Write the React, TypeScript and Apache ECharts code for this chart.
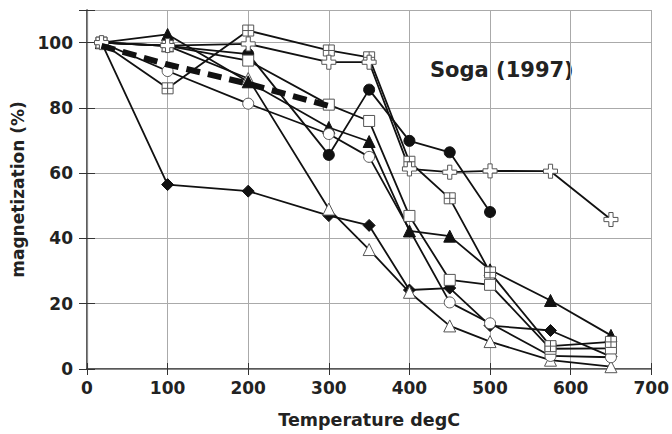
import React, { useEffect, useRef } from "react";
import * as echarts from "echarts";

const temps = [18, 100, 200, 300, 350, 400, 450, 500, 575, 650];
const filledDiamond = [100, 56.5, 54.5, 47, 44, 24.2, 24.8, 13.3, 11.8, 3.8];
const openTriangle = [100, 99, 89, 49, 36.6, 23.5, 13.2, 8.4, 2.7, 0.7];
const filledTriangle = [100, 102.5, 88, 74, 69.7, 42.3, 40.7, 30.4, 21, 10.3];
const filledCircle = [100, 99, 96.5, 65.6, 85.6, 69.9, 66.4, 48.1, null, null];
const openCircle = [100, 91.3, 81.3, 72, 65, null, 20.4, 14, 4, 3.6];
const openSquare = [100, 99, 94.5, 81, 76, 46.9, 27.3, 25.8, 6.2, 6.3];
const gridSquare = [100, 86, 103.7, 97.6, 95.5, 63.5, 52.3, 29.6, 7, 8.3];
const openPlus = [100, 99.1, 99.6, 94, 94, 61.3, 60.3, 60.7, 60.6, 45.8];
const meanTemps = [18, 100, 200, 300];
const meanCurve = [99, 93.3, 87.4, 80.6];

const xTicks = [0, 100, 200, 300, 400, 500, 600, 700];
const yTicks = [0, 20, 40, 60, 80, 100];

const PLUS = "path://M3.5,0 H6.5 V3.5 H10 V6.5 H6.5 V10 H3.5 V6.5 H0 V3.5 H3.5 Z";
const GRIDSQ = "path://M0,0 H10 V10 H0 Z M5,0 V10 M0,5 H10";

const FONT = "DejaVu Sans";

function pairs(xs: number[], ys: (number | null)[]) {
  return xs.map((x, i) => [x, ys[i]]);
}

export default function App() {
  const ref = useRef<HTMLDivElement>(null);
  useEffect(() => {
    if (!ref.current) return;
    const chart = echarts.init(ref.current, undefined, { renderer: "svg" });
    const line = { color: "#111", width: 1.8 };
    const open = { color: "#fff", borderColor: "#555", borderWidth: 1 };
    const filled = { color: "#111", borderColor: "#111", borderWidth: 1 };
    const mk = (name: string, ys: (number | null)[], symbol: string, size: number, style: any) => ({
      name,
      type: "line",
      data: pairs(temps, ys),
      connectNulls: true,
      symbol,
      symbolSize: size,
      lineStyle: line,
      itemStyle: style,
      z: 3,
    });
    const labelStyle = { fontFamily: FONT, fontWeight: "bold", fontSize: 17, color: "#222" };
    chart.setOption({
      animation: false,
      backgroundColor: "#fff",
      grid: { left: 87, right: 19, top: 10, bottom: 62 },
      xAxis: [
        {
          type: "value",
          min: 0,
          max: 700,
          interval: 100,
          position: "bottom",
          name: "Temperature degC",
          nameLocation: "middle",
          nameGap: 42,
          nameTextStyle: { fontFamily: FONT, fontWeight: "bold", fontSize: 17.5, color: "#222" },
          axisLine: { show: true, lineStyle: { color: "#222", width: 1.5 } },
          axisTick: { show: true, inside: true, length: 6, lineStyle: { color: "#333" } },
          axisLabel: { ...labelStyle, margin: 10, customValues: xTicks },
          splitLine: { show: true, lineStyle: { color: "#aaa", width: 1 } },
        },
        {
          type: "value",
          min: 0,
          max: 700,
          interval: 100,
          position: "top",
          axisLine: { show: true, lineStyle: { color: "#888", width: 1.2 } },
          axisTick: { show: true, inside: true, length: 6, lineStyle: { color: "#333" } },
          axisLabel: { show: false },
          splitLine: { show: false },
        },
      ],
      yAxis: [
        {
          type: "value",
          min: 0,
          max: 110,
          interval: 20,
          position: "left",
          name: "magnetization (%)",
          nameLocation: "middle",
          nameGap: 58,
          nameTextStyle: { fontFamily: FONT, fontWeight: "bold", fontSize: 17, color: "#222" },
          axisLine: { show: true, lineStyle: { color: "#222", width: 1.5 } },
          axisTick: { show: true, inside: true, length: 8, lineStyle: { color: "#333" } },
          axisLabel: { ...labelStyle, margin: 14, customValues: yTicks },
          splitLine: { show: true, lineStyle: { color: "#aaa", width: 1 } },
        },
        {
          type: "value",
          min: 0,
          max: 110,
          interval: 20,
          position: "right",
          axisLine: { show: true, lineStyle: { color: "#888", width: 1.2 } },
          axisTick: { show: true, inside: true, length: 8, lineStyle: { color: "#333" } },
          axisLabel: { show: false },
          splitLine: { show: false },
        },
      ],
      graphic: [
        {
          type: "text",
          left: 430,
          top: 59,
          style: { text: "Soga (1997)", font: `bold 21px '${FONT}'`, fill: "#222" },
        },
      ],
      series: [
        mk("diamond", filledDiamond, "diamond", 12, filled),
        mk("openTri", openTriangle, "triangle", 12, open),
        mk("filledTri", filledTriangle, "triangle", 12, filled),
        mk("filledCircle", filledCircle, "circle", 11, filled),
        mk("openCircle", openCircle, "circle", 11, open),
        mk("openSquare", openSquare, "rect", 11, open),
        mk("gridSquare", gridSquare, GRIDSQ, 11, open),
        mk("plus", openPlus, PLUS, 14, open),
        {
          name: "mean",
          type: "line",
          data: pairs(meanTemps, meanCurve),
          symbol: "none",
          lineStyle: { color: "#111", width: 6, type: [14, 8] },
          z: 4,
        },
      ],
    });
    return () => chart.dispose();
  }, []);
  return (
    <div
      ref={ref}
      style={{ position: "absolute", left: 0, top: 0, width: 672, height: 434 }}
    />
  );
}
